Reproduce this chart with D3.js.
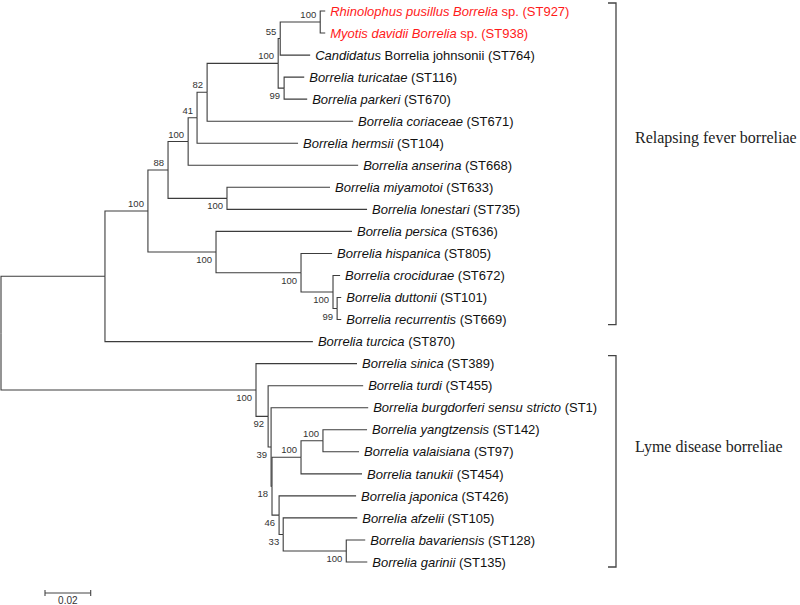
<!DOCTYPE html>
<html><head><meta charset="utf-8">
<script src="https://cdn.jsdelivr.net/npm/d3@7"></script>
<style>body{margin:0;background:#fff}</style>
</head><body>
<svg id="c" width="800" height="605"></svg>
<script>
// Branches of the tree: id, parent, branch length (substitutions/site), bootstrap support
const branches = [
  {id:"root",  parent:"",      len:0},
  {id:"nRFT",  parent:"root",  len:0.0455},
  {id:"nRF",   parent:"nRFT",  len:0.0188, boot:100},
  {id:"n88",   parent:"nRF",   len:0.0088, boot:88},
  {id:"n100a", parent:"n88",   len:0.0088, boot:100},
  {id:"n41",   parent:"n100a", len:0.0039, boot:41},
  {id:"n82",   parent:"n41",   len:0.0044, boot:82},
  {id:"n100b", parent:"n82",   len:0.0311, boot:100},
  {id:"n55",   parent:"n100b", len:0.0009, boot:55},
  {id:"n100c", parent:"n55",   len:0.0175, boot:100},
  {id:"ST927", parent:"n100c", len:0.0022},
  {id:"ST938", parent:"n100c", len:0.0022},
  {id:"ST764", parent:"n55",   len:0.0131},
  {id:"n99a",  parent:"n100b", len:0.0026, boot:99},
  {id:"ST116", parent:"n99a",  len:0.0088},
  {id:"ST670", parent:"n99a",  len:0.0101},
  {id:"ST671", parent:"n82",   len:0.0639},
  {id:"ST104", parent:"n41",   len:0.0442},
  {id:"ST668", parent:"n100a", len:0.0744},
  {id:"n100d", parent:"n88",   len:0.0258, boot:100},
  {id:"ST633", parent:"n100d", len:0.0451},
  {id:"ST735", parent:"n100d", len:0.0613},
  {id:"n100e", parent:"nRF",   len:0.0298, boot:100},
  {id:"ST636", parent:"n100e", len:0.0595},
  {id:"n100f", parent:"n100e", len:0.0372, boot:100},
  {id:"ST805", parent:"n100f", len:0.0136},
  {id:"n100g", parent:"n100f", len:0.0140, boot:100},
  {id:"ST672", parent:"n100g", len:0.0031},
  {id:"n99b",  parent:"n100g", len:0.0018, boot:99},
  {id:"ST101", parent:"n99b",  len:0.0018},
  {id:"ST669", parent:"n99b",  len:0.0018},
  {id:"ST870", parent:"nRFT",  len:0.0910},
  {id:"nLy",   parent:"root",  len:0.1116, boot:100},
  {id:"ST389", parent:"nLy",   len:0.0442},
  {id:"n92",   parent:"nLy",   len:0.0053, boot:92},
  {id:"ST455", parent:"n92",   len:0.0416},
  {id:"n39",   parent:"n92",   len:0.0013, boot:39},
  {id:"ST1",   parent:"n39",   len:0.0425},
  {id:"n18",   parent:"n39",   len:0.0004, boot:18},
  {id:"n100h", parent:"n18",   len:0.0127, boot:100},
  {id:"n100i", parent:"n100h", len:0.0096, boot:100},
  {id:"ST142", parent:"n100i", len:0.0193},
  {id:"ST97",  parent:"n100i", len:0.0158},
  {id:"ST454", parent:"n100h", len:0.0267},
  {id:"n46",   parent:"n18",   len:0.0031, boot:46},
  {id:"ST426", parent:"n46",   len:0.0337},
  {id:"n33",   parent:"n46",   len:0.0018, boot:33},
  {id:"ST105", parent:"n33",   len:0.0324},
  {id:"n100j", parent:"n33",   len:0.0276, boot:100},
  {id:"ST128", parent:"n100j", len:0.0083},
  {id:"ST135", parent:"n100j", len:0.0092}
];

// Leaf labels: [italic part, upright part]
const leafLabels = {
  ST927: ["Rhinolophus pusillus Borrelia", " sp. (ST927)"],
  ST938: ["Myotis davidii Borrelia", " sp. (ST938)"],
  ST764: ["Candidatus", " Borrelia johnsonii (ST764)"],
  ST116: ["Borrelia turicatae", " (ST116)"],
  ST670: ["Borrelia parkeri", " (ST670)"],
  ST671: ["Borrelia coriaceae", " (ST671)"],
  ST104: ["Borrelia hermsii", " (ST104)"],
  ST668: ["Borrelia anserina", " (ST668)"],
  ST633: ["Borrelia miyamotoi", " (ST633)"],
  ST735: ["Borrelia lonestari", " (ST735)"],
  ST636: ["Borrelia persica", " (ST636)"],
  ST805: ["Borrelia hispanica", " (ST805)"],
  ST672: ["Borrelia crocidurae", " (ST672)"],
  ST101: ["Borrelia duttonii", " (ST101)"],
  ST669: ["Borrelia recurrentis", " (ST669)"],
  ST870: ["Borrelia turcica", " (ST870)"],
  ST389: ["Borrelia sinica", " (ST389)"],
  ST455: ["Borrelia turdi", " (ST455)"],
  ST1:   ["Borrelia burgdorferi sensu stricto", " (ST1)"],
  ST142: ["Borrelia yangtzensis", " (ST142)"],
  ST97:  ["Borrelia valaisiana", " (ST97)"],
  ST454: ["Borrelia tanukii", " (ST454)"],
  ST426: ["Borrelia japonica", " (ST426)"],
  ST105: ["Borrelia afzelii", " (ST105)"],
  ST128: ["Borrelia bavariensis", " (ST128)"],
  ST135: ["Borrelia garinii", " (ST135)"]
};
const highlighted = ["ST927", "ST938"];

// Groups (clades) with brackets
const groups = [
  {name:"Relapsing fever borreliae", first:"ST927", last:"ST669", labelAt:"ST104"},
  {name:"Lyme disease borreliae",    first:"ST389", last:"ST135", labelAt:"ST97"}
];
const scaleBarValue = 0.02;
const scaleBarLabel = "0.02";
// bootstrap labels drawn above the branch (others below)
const bootAbove = ["n100c","n55","n100b","n82","n41","n100a","n88","nRF","n100i","n100h"];

const svg = d3.select("#c");
const W = 800, H = 605;

const root = d3.stratify().id(d => d.id).parentId(d => d.parent || null)(branches);
root.each(n => { n.depthLen = (n.parent ? n.parent.depthLen : 0) + n.data.len; });

const leaves = root.leaves();
const x = d3.scaleLinear().domain([0, 0.02]).range([1, 1 + 45.7]);
const y = d3.scaleLinear().domain([0, leaves.length - 1]).range([11, 562]);
leaves.forEach((l, i) => { l.py = y(i); });
root.eachAfter(n => {
  n.px = x(n.depthLen);
  if (n.children) n.py = (n.children[0].py + n.children[n.children.length - 1].py) / 2;
});

const lineColor = "#3c3c3c";
const g = svg.append("g");

// links (elbow)
g.selectAll("path.link").data(root.links()).join("path")
  .attr("class", "link")
  .attr("fill", "none")
  .attr("stroke", lineColor)
  .attr("stroke-width", 1.1)
  .attr("d", d => `M${d.source.px},${d.source.py}V${d.target.py}H${d.target.px}`);

// leaf labels
const lt = g.selectAll("text.leaf").data(leaves).join("text")
  .attr("class", "leaf")
  .attr("x", d => d.px + 5)
  .attr("y", d => d.py)
  .attr("dy", "0.36em")
  .attr("font-family", "'Liberation Sans', Arial, sans-serif")
  .attr("font-size", 13)
  .attr("fill", d => highlighted.includes(d.id) ? "#ff1a1a" : "#111");
lt.append("tspan").attr("font-style", "italic").text(d => leafLabels[d.id][0]);
lt.append("tspan").text(d => leafLabels[d.id][1]);

// bootstrap values
const internal = root.descendants().filter(n => n.children && n.data.boot != null);
g.selectAll("text.boot").data(internal).join("text")
  .attr("class", "boot")
  .attr("x", d => d.px - 4)
  .attr("y", d => bootAbove.includes(d.id) ? d.py - 4 : d.py + 11)
  .attr("text-anchor", "end")
  .attr("font-family", "'Liberation Sans', Arial, sans-serif")
  .attr("font-size", 9.5)
  .attr("fill", "#333")
  .text(d => d.data.boot);

// brackets
const byId = new Map(root.descendants().map(n => [n.id, n]));
const bx = 616, bt = 8;
groups.forEach(gr => {
  const y0 = byId.get(gr.first).py - 8, y1 = byId.get(gr.last).py + 5;
  g.append("path")
    .attr("fill", "none").attr("stroke", "#444").attr("stroke-width", 1.3)
    .attr("d", `M${bx - bt},${y0}H${bx}V${y1}H${bx - bt}`);
  g.append("text")
    .attr("x", 635).attr("y", byId.get(gr.labelAt).py)
    .attr("font-family", "'Liberation Serif', 'Times New Roman', serif")
    .attr("font-size", 16)
    .attr("fill", "#222")
    .text(gr.name);
});

// scale bar
const sbX0 = 45, sbY = 593;
const sbLen = x(scaleBarValue) - x(0);
const sb = g.append("g").attr("stroke", "#444").attr("stroke-width", 1.1);
sb.append("line").attr("x1", sbX0).attr("x2", sbX0 + sbLen).attr("y1", sbY).attr("y2", sbY);
sb.append("line").attr("x1", sbX0).attr("x2", sbX0).attr("y1", sbY - 3).attr("y2", sbY + 3);
sb.append("line").attr("x1", sbX0 + sbLen).attr("x2", sbX0 + sbLen).attr("y1", sbY - 3).attr("y2", sbY + 3);
g.append("text")
  .attr("x", sbX0 + sbLen / 2).attr("y", 604)
  .attr("text-anchor", "middle")
  .attr("font-family", "'Liberation Sans', Arial, sans-serif")
  .attr("font-size", 10).attr("fill", "#333")
  .text(scaleBarLabel);
</script>
</body></html>
